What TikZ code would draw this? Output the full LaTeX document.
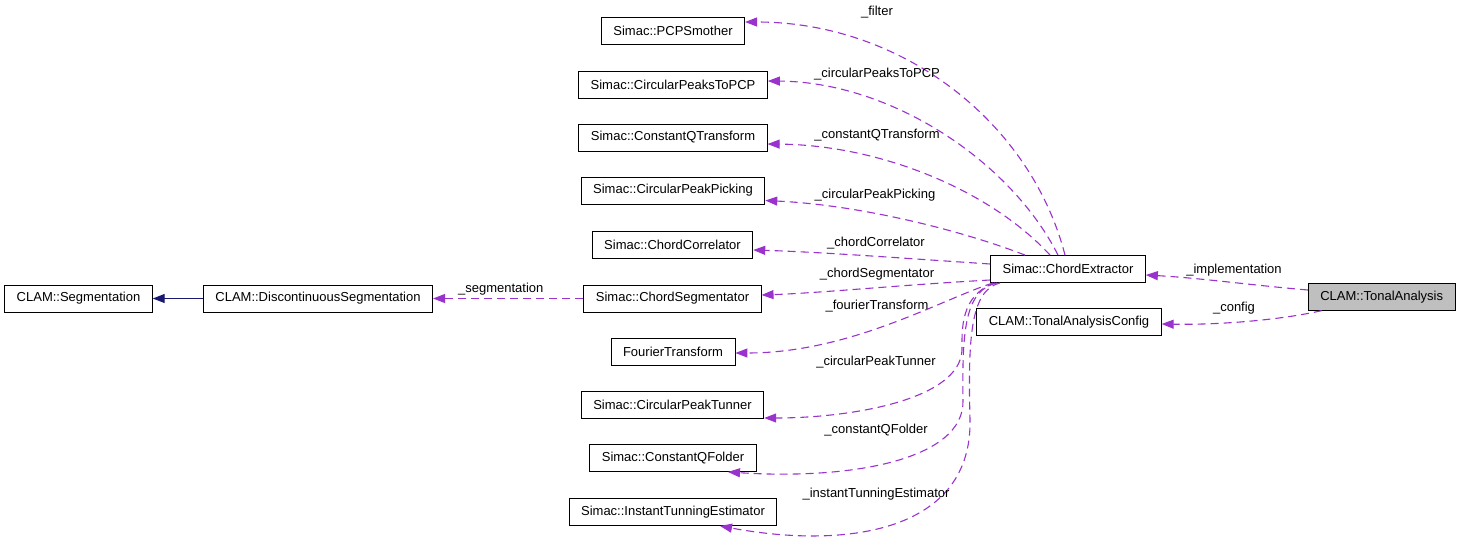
\documentclass[tikz,border=0pt]{standalone}
\usepackage{fontspec}
\setmainfont{Liberation Sans}
\usepackage{xcolor}
\usetikzlibrary{arrows.meta}
\definecolor{depcol}{HTML}{9A32CD}
\definecolor{inhcol}{HTML}{191970}
\tikzset{
  cls/.style={draw, line width=0.9pt, inner xsep=12pt, inner ysep=0pt, minimum height=27pt, font=\fontsize{13}{15}\selectfont},
  dep/.style={-{Triangle[length=12pt,width=9pt]}, depcol, line width=1.1pt, dash pattern=on 8pt off 5pt},
  inh/.style={-{Triangle[length=12pt,width=9pt]}, inhcol, line width=1.1pt},
  lbl/.style={font=\fontsize{13}{15}\selectfont, inner sep=0pt, text=black}
}
\begin{document}
\begin{tikzpicture}[x=1pt, y=-1pt]
\useasboundingbox (0,0) rectangle (1461,549);
%% classes
\node[cls] (seg) at (78.5,298.5) {CLAM::Segmentation};
\node[cls] (dseg) at (318,298.5) {CLAM::DiscontinuousSegmentation};
\node[cls] (pcp) at (673,31) {Simac::PCPSmother};
\node[cls] (cptp) at (673,84.5) {Simac::CircularPeaksToPCP};
\node[cls] (cqt) at (673,137.5) {Simac::ConstantQTransform};
\node[cls] (cpp) at (673,190.5) {Simac::CircularPeakPicking};
\node[cls] (ccor) at (672.5,245) {Simac::ChordCorrelator};
\node[cls] (cseg) at (672.5,298.5) {Simac::ChordSegmentator};
\node[cls] (ft) at (673,351.5) {FourierTransform};
\node[cls] (cpt) at (672.5,405) {Simac::CircularPeakTunner};
\node[cls] (cqf) at (673,458) {Simac::ConstantQFolder};
\node[cls] (ite) at (673,512) {Simac::InstantTunningEstimator};
\node[cls] (cex) at (1068,269) {Simac::ChordExtractor};
\node[cls] (tac) at (1069,322) {CLAM::TonalAnalysisConfig};
\node[cls, fill=gray!50] (ta) at (1381.7,296.7) {CLAM::TonalAnalysis};
%% inheritance
\draw[inh] (dseg.west) -- (seg.east);
%% members
\draw[dep] (cseg.west) -- (dseg.east) node[lbl, pos=0.55, above=3pt] {\_segmentation};
\draw[dep] ([yshift=6.7pt]ta.west) .. controls (1250,285) and (1200,278) .. ([yshift=-6pt]cex.east);
\draw[dep] ([xshift=-60pt]ta.south) .. controls (1280,320) and (1220,325) .. ([yshift=-2pt]tac.east);
\draw[dep] ([xshift=-3pt]cex.north) .. controls (1030,120) and (900,22) .. ([yshift=9pt]pcp.east);
\draw[dep] ([xshift=-10pt]cex.north) .. controls (1010,160) and (890,82) .. ([yshift=3.5pt]cptp.east);
\draw[dep] ([xshift=-18pt]cex.north) .. controls (990,190) and (880,145) .. ([yshift=-6.5pt]cqt.east);
\draw[dep] ([xshift=-43pt]cex.north) .. controls (960,230) and (860,205) .. ([yshift=-10pt]cpp.east);
\draw[dep] ([yshift=5pt]cex.west) .. controls (900,258) and (820,252) .. ([yshift=-5pt]ccor.east);
\draw[dep] ([yshift=-11pt]cex.west) .. controls (900,285) and (820,293) .. ([yshift=3.5pt]cseg.east);
\draw[dep] ([xshift=-75pt]cex.south) .. controls (940,300) and (850,353) .. ([yshift=-1.5pt]ft.east);
\draw[dep] ([xshift=-73pt]cex.south) .. controls (960,295) and (962,330) .. (962,350)
  .. controls (960,400) and (850,418) .. ([yshift=-13pt]cpt.east);
\draw[dep] ([xshift=-71pt]cex.south) .. controls (965,290) and (962,330) .. (963,400)
  .. controls (965,460) and (850,480) .. ([xshift=55pt]cqf.south);
\draw[dep] ([xshift=-68pt]cex.south) .. controls (970,290) and (968,340) .. (970,420)
  .. controls (972,530) and (850,550) .. ([xshift=47pt]ite.south);
%% labels
\node[lbl] (l1) at (877,12) {\_filter};
\node[lbl] (l2) at (877,74) {\_circularPeaksToPCP};
\node[lbl] (l3) at (877,135) {\_constantQTransform};
\node[lbl] (l4) at (875,195) {\_circularPeakPicking};
\node[lbl] (l5) at (876,243) {\_chordCorrelator};
\node[lbl] (l6) at (877,274) {\_chordSegmentator};
\node[lbl] (l7) at (877,306) {\_fourierTransform};
\node[lbl] (l8) at (876,362) {\_circularPeakTunner};
\node[lbl] (l9) at (876,430) {\_constantQFolder};
\node[lbl] (l10) at (876,494) {\_instantTunningEstimator};
\node[lbl] (l11) at (1234,270) {\_implementation};
\node[lbl] (l12) at (1234,308) {\_config};
\end{tikzpicture}
\end{document}
